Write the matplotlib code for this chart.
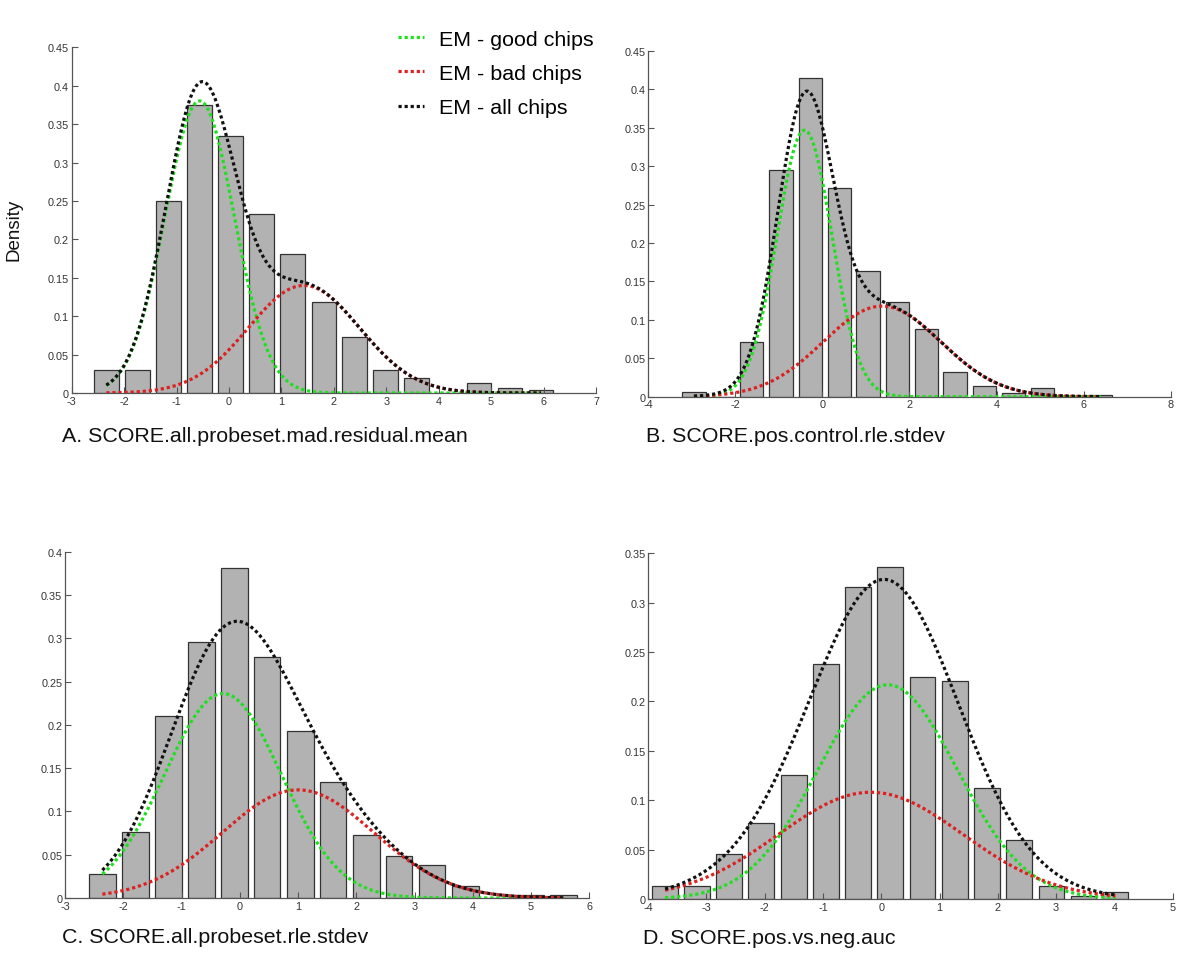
import numpy as np
import matplotlib
matplotlib.use("Agg")
import matplotlib.pyplot as plt
from matplotlib.ticker import FormatStrFormatter, FuncFormatter

plt.rcParams['font.family'] = ['Liberation Sans', 'DejaVu Sans']

# ---- histogram data (bin centres and densities), one set per panel ----
a_centers = [-2.34, -1.75, -1.15, -0.56, 0.03, 0.62, 1.21, 1.81, 2.40, 2.99, 3.58, 4.17, 4.77, 5.36, 5.95]
a_density = [0.030, 0.030, 0.250, 0.3745, 0.335, 0.2336, 0.1808, 0.1183, 0.0728, 0.030, 0.0195, 0.0, 0.0134, 0.0065, 0.0035]

b_centers = [-2.95, -2.28, -1.62, -0.95, -0.28, 0.39, 1.05, 1.72, 2.39, 3.05, 3.72, 4.39, 5.05, 5.72, 6.39]
b_density = [0.0056, 0.0, 0.0707, 0.2947, 0.4145, 0.2713, 0.1632, 0.1228, 0.0877, 0.0326, 0.0143, 0.0044, 0.0115, 0.0, 0.0025]

c_centers = [-2.36, -1.79, -1.22, -0.66, -0.09, 0.47, 1.04, 1.60, 2.17, 2.73, 3.30, 3.87, 4.43, 5.00, 5.56]
c_density = [0.0273, 0.0758, 0.2098, 0.2953, 0.3815, 0.2787, 0.1925, 0.134, 0.0724, 0.0481, 0.0377, 0.0135, 0.0, 0.0032, 0.0038]

d_centers = [-3.71, -3.16, -2.61, -2.06, -1.50, -0.95, -0.40, 0.15, 0.71, 1.26, 1.81, 2.36, 2.92, 3.47, 4.02]
d_density = [0.0132, 0.0132, 0.0452, 0.077, 0.1259, 0.2383, 0.3159, 0.3365, 0.2244, 0.2207, 0.112, 0.0594, 0.0132, 0.003, 0.0068]

# ---- EM fitted components: (weight, mean, sd) for good / bad chips ----
a_good = (0.629, -0.56, 0.66)
a_bad = (0.372, 1.43, 1.06)
b_good = (0.548, -0.41, 0.63)
b_bad = (0.399, 1.37, 1.35)
c_good = (0.592, -0.29, 1.00)
c_bad = (0.407, 1.00, 1.30)
d_good = (0.647, 0.11, 1.19)
d_bad = (0.428, -0.18, 1.58)

titles = ["A. SCORE.all.probeset.mad.residual.mean",
          "B. SCORE.pos.control.rle.stdev",
          "C. SCORE.all.probeset.rle.stdev",
          "D. SCORE.pos.vs.neg.auc"]
legend_labels = ['EM - good chips', 'EM - bad chips', 'EM - all chips']
xlims = [(-3, 7), (-4, 8), (-3, 6), (-4, 5)]
xsteps = [1, 2, 1, 1]
ylims = [0.45, 0.45, 0.4, 0.35]

W, H = 1200, 962
# axes boxes in pixels: left, right, top, bottom
boxes = [(71.7, 596, 48.3, 394), (648.2, 1170.7, 52, 397.7),
         (65.1, 589.3, 552.7, 899), (648.2, 1172.6, 554.3, 900)]
title_pos = [(61.7, 436.7), (646, 437), (61.7, 938), (642.7, 938.3)]

GREEN = '#1fe01f'
RED = '#dd2020'
BLACK = '#111111'
DOT = (0, (1, 0.9))


def gauss(x, w, m, s):
    return w * np.exp(-0.5 * ((x - m) / s) ** 2) / (s * np.sqrt(2 * np.pi))


fig = plt.figure(figsize=(W / 100, H / 100), dpi=100)

panels = [(a_centers, a_density, a_good, a_bad),
          (b_centers, b_density, b_good, b_bad),
          (c_centers, c_density, c_good, c_bad),
          (d_centers, d_density, d_good, d_bad)]

handles = None
for i, (cen, dens, good, bad) in enumerate(panels):
    l, r, t, b = boxes[i]
    ax = fig.add_axes([l / W, 1 - b / H, (r - l) / W, (b - t) / H])
    width = 0.8 * (cen[1] - cen[0])
    ax.bar(cen, dens, width=width, color='#b2b2b2', edgecolor='#333333', linewidth=0.9, zorder=1)

    xs = np.linspace(cen[0], cen[-1], 300)
    g = gauss(xs, *good)
    bd = gauss(xs, *bad)
    h1, = ax.plot(xs, g, color=GREEN, lw=2.3, linestyle=DOT, zorder=3)
    h2, = ax.plot(xs, bd, color=RED, lw=2.3, linestyle=DOT, zorder=3)
    h3, = ax.plot(xs, g + bd, color=BLACK, lw=2.3, linestyle=DOT, zorder=4)
    if handles is None:
        handles = [h1, h2, h3]

    ax.set_xlim(*xlims[i])
    ax.set_ylim(0, ylims[i])
    ax.set_xticks(np.arange(xlims[i][0], xlims[i][1] + 0.01, xsteps[i]))
    ax.set_yticks(np.arange(0, ylims[i] + 0.001, 0.05))
    ax.yaxis.set_major_formatter(FuncFormatter(lambda v, p: '0' if abs(v) < 1e-9 else ('%.2f' % v).rstrip('0')))
    ax.xaxis.set_major_formatter(FormatStrFormatter('%d'))
    for sp in ['top', 'right']:
        ax.spines[sp].set_visible(False)
    for sp in ['left', 'bottom']:
        ax.spines[sp].set_color('#555555')
        ax.spines[sp].set_linewidth(0.9)
    ax.tick_params(direction='in', length=4, width=0.8, colors='#555555',
                   labelsize=7.8, labelcolor='#333333', pad=2)

    tx, ty = title_pos[i]
    fig.text(tx / W, 1 - ty / H, titles[i], fontsize=15.4, ha='left', va='center', color='#111111')

fig.text(14 / W, 1 - 230 / H, 'Density', rotation=90, fontsize=13.5, ha='center', va='center', color='#111111')

fig.legend(handles, legend_labels,
           loc='upper left', bbox_to_anchor=(398 / W, 1 - 30.5 / H), frameon=False,
           fontsize=15.4, handlelength=1.2, handletextpad=0.7, labelspacing=0.715,
           borderpad=0, borderaxespad=0)

fig.savefig('out.png', dpi=100)
